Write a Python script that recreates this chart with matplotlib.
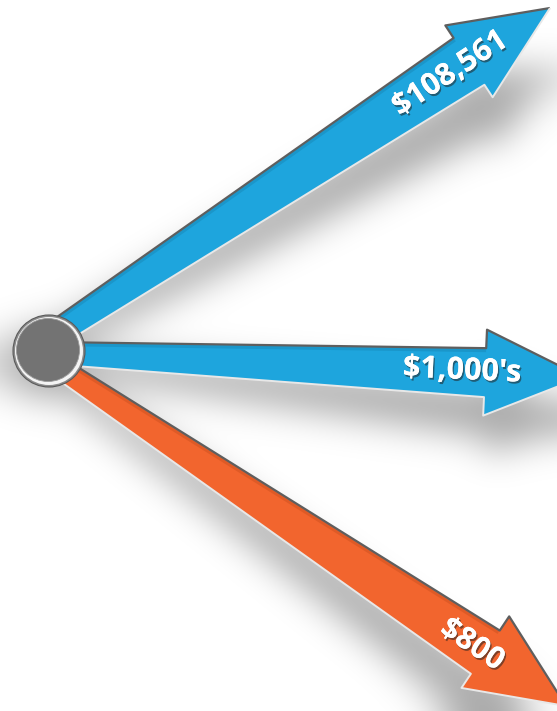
import numpy as np
import matplotlib

matplotlib.use("Agg")
import matplotlib.pyplot as plt
import matplotlib.patheffects as pe
from matplotlib.path import Path
from matplotlib.patches import Polygon, Circle

W, H = 557, 711

# values shown on the three arrows
labels = ["$108,561", "$1,000's", "$800"]
colors = ["#1ea5dd", "#1ea5dd", "#f2652e"]
inner_shades = ["#1684b3", "#1684b3", "#c84e1e"]

# arrow geometry in pixel coords (y down)
starts = [(49, 338), (49, 353), (49, 361)]
tips = [(550, 8), (582, 377), (566, 706)]
start_widths = [25, 22, 20]
end_widths = [56, 49, 52]
label_pos = [(450, 74), (462, 371), (472, 645)]
shadow_offsets = [(6, 50), (2, 38), (-8, 40)]
HEAD_W, HEAD_L = 86, 97
HUB, HUB_R = (49, 351), 36


def arrow_geometry(s, t, w0, w1):
    s = np.array(s, float)
    t = np.array(t, float)
    u = (t - s) / np.linalg.norm(t - s)
    n = np.array([u[1], -u[0]])  # points to the screen-top side
    b = t - u * HEAD_L
    top = [s + n * w0 / 2, b + n * w1 / 2, b + n * HEAD_W / 2, t]
    bot = [t, b - n * HEAD_W / 2, b - n * w1 / 2, s - n * w0 / 2]
    return np.array(top), np.array(bot), u, n


def gauss_matrix(size, sigma):
    idx = np.arange(size)
    g = np.exp(-((idx[:, None] - idx[None, :]) ** 2) / (2 * sigma**2))
    return g / g.sum(axis=1, keepdims=True)


fig = plt.figure(figsize=(W / 100, H / 100), dpi=100)
ax = fig.add_axes([0, 0, 1, 1])
ax.set_xlim(0, W)
ax.set_ylim(H, 0)
ax.axis("off")

# soft drop shadows, rendered as a blurred mask
xs, ys = np.meshgrid(np.arange(W) + 0.5, np.arange(H) + 0.5)
grid = np.column_stack([xs.ravel(), ys.ravel()])
shadow = np.zeros((H, W))
for s, t, w0, w1, off in zip(starts, tips, start_widths, end_widths, shadow_offsets):
    top, bot, u, n = arrow_geometry(s, t, w0, w1)
    pts = np.vstack([top, bot])
    frac = ((pts - np.array(s)) @ u) / np.linalg.norm(np.array(t) - np.array(s))
    pts = pts + frac[:, None] * np.array(off)[None, :] + np.array([0, 8])
    shadow += Path(pts).contains_points(grid).reshape(H, W)
hub_mask = (xs - HUB[0] + 5) ** 2 + (ys - HUB[1] - 12) ** 2 < HUB_R**2
shadow += hub_mask
shadow = np.clip(shadow, 0, 1)
shadow = gauss_matrix(H, 18) @ shadow @ gauss_matrix(W, 18).T
rgba = np.zeros((H, W, 4))
rgba[..., 3] = 0.34 * shadow
ax.imshow(rgba, extent=(0, W, H, 0), zorder=1, interpolation="bilinear")

for s, t, w0, w1, c, sh in zip(starts, tips, start_widths, end_widths, colors,
                               inner_shades):
    top, bot, u, n = arrow_geometry(s, t, w0, w1)
    ax.add_patch(Polygon(np.vstack([top, bot]), closed=True, fc=c, ec="none", zorder=2))
    inner = top[:2] - n * 2.5
    ax.plot(inner[:, 0], inner[:, 1], color=sh, lw=2.2, alpha=0.45, zorder=2.5,
            solid_capstyle="butt")
    ax.plot(top[:, 0], top[:, 1], color="#5e5e5e", lw=1.6, zorder=3,
            solid_capstyle="butt")
    ax.plot(bot[:, 0], bot[:, 1], color="#e8e8e8", lw=1.4, zorder=3,
            solid_capstyle="butt")

# hub circle
ax.add_patch(Circle(HUB, HUB_R, fc="#8a8a8a", ec="#5a5a5a", lw=0.8, zorder=4))
ax.add_patch(Circle(HUB, HUB_R - 2, fc="#f4f4f4", ec="none", zorder=4))
ax.add_patch(Circle((HUB[0] - 1, HUB[1] - 1), HUB_R - 4.5, fc="#737373", ec="#9a9a9a",
                    lw=0.6, zorder=4))

for lab, (x, y), s, t in zip(labels, label_pos, starts, tips):
    ang = -np.degrees(np.arctan2(t[1] - s[1], t[0] - s[0]))
    ax.text(x, y, lab, color="white", fontsize=22, fontweight="bold",
            family=["Open Sans", "DejaVu Sans"], rotation=ang,
            rotation_mode="anchor", ha="center", va="center", zorder=5,
            path_effects=[pe.withSimplePatchShadow(offset=(1, -1.5),
                                                  shadow_rgbFace="#222222",
                                                  alpha=0.55),
                          pe.Normal()])

fig.savefig("out.png", dpi=100)
